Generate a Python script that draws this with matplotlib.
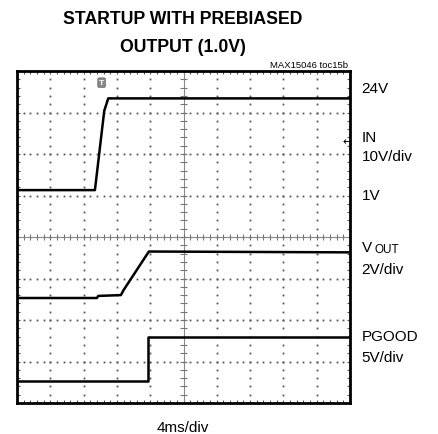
import matplotlib
matplotlib.use("Agg")
import matplotlib.pyplot as plt
import numpy as np

plt.rcParams['font.family'] = ['Liberation Sans Narrow', 'Liberation Sans', 'DejaVu Sans']

# traces in screen divisions (x: 10 div of 4ms, y: 8 div)
in_t = [0, 2.34, 2.62, 2.74, 10]
in_v = [5.13, 5.13, 7.04, 7.34, 7.34]

vout_t = [0, 2.40, 2.44, 3.12, 3.20, 3.96, 10]
vout_v = [2.53, 2.53, 2.58, 2.60, 2.72, 3.65, 3.63]

pgood_t = [0, 3.94, 3.94, 10]
pgood_v = [0.54, 0.54, 1.60, 1.60]

right_labels = [("24V", 7.6), ("IN", 6.4), ("10V/div", 5.95), ("1V", 5.0),
                ("PGOOD", 1.62), ("5V/div", 1.1)]

fig = plt.figure(figsize=(4.38, 4.35), dpi=100)
ax = fig.add_axes([17/438, 31/435, 333/438, 332/435])
ax.set_xlim(0, 10)
ax.set_ylim(0, 8)

# dotted graticule
fine_x = np.arange(0, 10.01, 0.2)
fine_y = np.arange(0, 8.01, 0.2)
for gy in range(1, 8):
    if gy == 4:
        continue
    ax.plot(fine_x, np.full_like(fine_x, gy), ls='none', marker='s', ms=1.3,
            color='#555555', mew=0)
for gx in range(1, 10):
    if gx == 5:
        continue
    ax.plot(np.full_like(fine_y, gx), fine_y, ls='none', marker='s', ms=1.3,
            color='#555555', mew=0)

# centre lines with ticks
ax.axhline(4, color='#888888', lw=0.8)
ax.axvline(5, color='#888888', lw=0.8)
ax.vlines(fine_x, 4 - 0.08, 4 + 0.08, color='#777777', lw=0.8)
ax.hlines(fine_y, 5 - 0.1, 5 + 0.1, color='#777777', lw=0.8)

ax.plot(in_t, in_v, color='black', lw=1.8)
ax.plot(vout_t, vout_v, color='black', lw=1.8)
ax.plot(pgood_t, pgood_v, color='black', lw=1.8)

# trigger markers
ax.text(2.54, 7.72, "T", ha='center', va='center', fontsize=6, color='white',
        fontweight='bold',
        bbox=dict(boxstyle='round,pad=0.15', fc='#888888', ec='#666666', lw=0.5))
ax.text(9.93, 6.32, "\u2190", ha='center', va='center', fontsize=8,
        color='black', family='DejaVu Sans')

ax.set_xticks(np.arange(0, 11, 1))
ax.set_yticks(np.arange(0, 9, 1))
ax.set_xticks(fine_x, minor=True)
ax.set_yticks(fine_y, minor=True)
ax.tick_params(which='both', direction='in', length=2, width=0.8,
               color='#555555', top=True, right=True,
               labelbottom=False, labelleft=False)
for s in ax.spines.values():
    s.set_linewidth(2)

fig.text(183/438, 1 - 20/435, "STARTUP WITH PREBIASED", ha='center', va='center',
         fontsize=12.7, fontweight='bold')
fig.text(183/438, 1 - 47/435, "OUTPUT (1.0V)", ha='center', va='center',
         fontsize=12.7, fontweight='bold')
fig.text(348/438, 1 - 65/435, "MAX15046 toc15b", ha='right', va='center',
         fontsize=6.8)

for txt, yd in right_labels:
    ax.text(10.35, yd, txt, ha='left', va='center', fontsize=11,
            transform=ax.transData, clip_on=False)
ax.text(10.35, 3.75, "V", ha='left', va='center', fontsize=11, clip_on=False)
ax.text(10.75, 3.70, "OUT", ha='left', va='center', fontsize=8.5, clip_on=False)
ax.text(10.35, 3.22, "2V/div", ha='left', va='center', fontsize=11, clip_on=False)

fig.text(183/438, 1 - 428/435, "4ms/div", ha='center', va='center', fontsize=11)

fig.savefig("out.png", dpi=100)
